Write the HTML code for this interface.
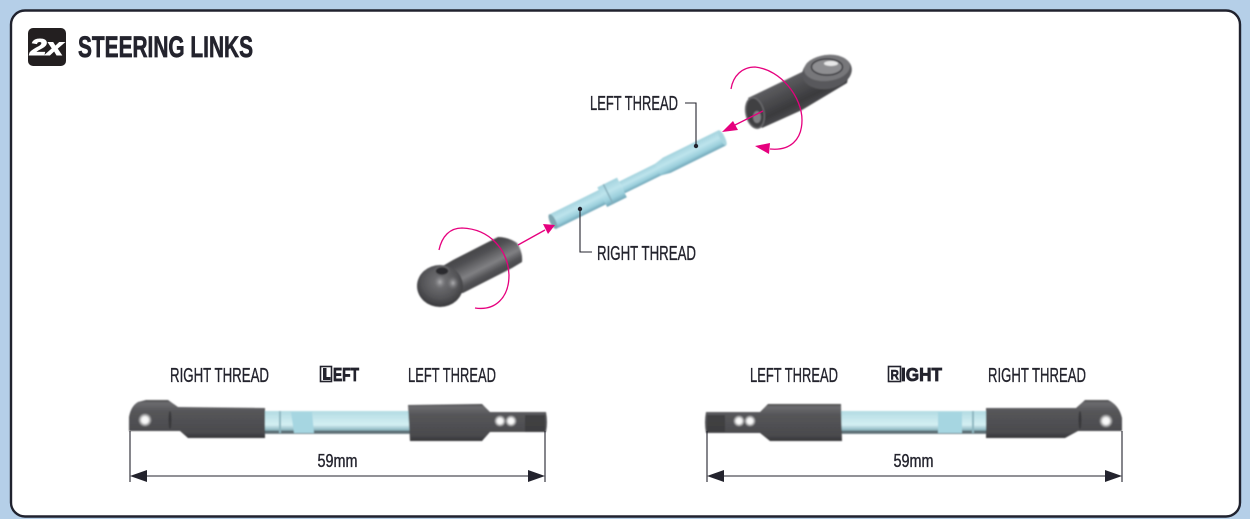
<!DOCTYPE html>
<html><head><meta charset="utf-8"><style>
html,body{margin:0;padding:0;width:1250px;height:519px;overflow:hidden;background:#b5cfe8}
svg{display:block}
text{font-family:"Liberation Sans",sans-serif;fill:#23232d;stroke:#23232d;stroke-width:.35}
</style></head><body>
<svg width="1250" height="519" viewBox="0 0 1250 519" xmlns="http://www.w3.org/2000/svg">
<defs>
<filter id="soft" x="-5%" y="-10%" width="110%" height="120%"><feGaussianBlur stdDeviation=".7"/></filter>
<linearGradient id="dk2" x1="0" y1="0" x2="0" y2="1"><stop offset="0" stop-color="#4a4a4d"/><stop offset=".08" stop-color="#6b6b6e"/><stop offset=".3" stop-color="#555558"/><stop offset=".85" stop-color="#4a4a4d"/><stop offset="1" stop-color="#343437"/></linearGradient>
<linearGradient id="bl" x1="0" y1="0" x2="0" y2="1"><stop offset="0" stop-color="#a4d3de"/><stop offset=".4" stop-color="#bde4ec"/><stop offset=".75" stop-color="#9bcfdc"/><stop offset="1" stop-color="#6fa5b7"/></linearGradient>
<linearGradient id="bl2" x1="0" y1="0" x2="0" y2="1"><stop offset="0" stop-color="#b2dbe2"/><stop offset=".6" stop-color="#d4eff3"/><stop offset=".82" stop-color="#8fb8c2"/><stop offset=".9" stop-color="#4e5c62"/><stop offset="1" stop-color="#7f9197"/></linearGradient>
<linearGradient id="lr" gradientUnits="userSpaceOnUse" x1="466" y1="243" x2="488" y2="286"><stop offset="0" stop-color="#38383b"/><stop offset=".35" stop-color="#505053"/><stop offset=".62" stop-color="#808083"/><stop offset=".78" stop-color="#525255"/><stop offset="1" stop-color="#3e3e41"/></linearGradient>
<linearGradient id="rr" gradientUnits="userSpaceOnUse" x1="767" y1="85" x2="785" y2="122"><stop offset="0" stop-color="#626265"/><stop offset=".3" stop-color="#515154"/><stop offset=".7" stop-color="#3a3a3d"/><stop offset="1" stop-color="#505053"/></linearGradient>
<radialGradient id="ball" cx=".5" cy=".4" r=".65"><stop offset="0" stop-color="#77777a"/><stop offset=".6" stop-color="#545457"/><stop offset="1" stop-color="#313134"/></radialGradient>
<radialGradient id="glow"><stop offset="0" stop-color="#fff"/><stop offset=".45" stop-color="#f4f4f4"/><stop offset="1" stop-color="#fff" stop-opacity="0"/></radialGradient>
<radialGradient id="grey"><stop offset="0" stop-color="#b0b0b3"/><stop offset="1" stop-color="#77777a" stop-opacity="0"/></radialGradient>
</defs>

<rect x="11" y="10.500" width="1229" height="506" rx="14" fill="#fff" stroke="#20222e" stroke-width="2.400"/>

<rect x="28" y="28" width="38" height="38" rx="5" fill="#231f20"/>
<text x="30" y="55" font-size="23" font-weight="bold" font-style="italic" textLength="33" lengthAdjust="spacingAndGlyphs" style="fill:#fff;stroke:#fff;stroke-width:1">2x</text>
<text x="78" y="57" font-size="30" font-weight="bold" textLength="175" lengthAdjust="spacingAndGlyphs" style="stroke-width:.7">STEERING LINKS</text>

<!-- rod -->
<g filter="url(#soft)">
<g transform="translate(552,222) rotate(-26.300)">
<rect x="0" y="-8" width="58" height="16" fill="url(#bl)"/>
<ellipse cx="1" cy="0" rx="3" ry="8" fill="#7fa6b0"/>
<rect x="78" y="-6.500" width="58" height="13" fill="url(#bl)"/>
<path d="M118 -6.500 L128 -8.500 L190 -8.500 L190 8.500 L128 8.500 L118 6.500 Z" fill="url(#bl)"/>
<ellipse cx="190" cy="0" rx="2.500" ry="8.500" fill="#a9d5df"/>
<rect x="56" y="-11" width="22" height="22" fill="url(#bl)"/>
<rect x="62" y="-11" width="1.500" height="22" fill="#86aebb"/>
</g>

<!-- left rod end -->
<path d="M436 270 L453 260 L498 237 Q508 237 517 243 Q523 252 522 262 L512 268 L463 293 L440 295 Z" fill="url(#lr)"/>
<ellipse cx="440" cy="286" rx="23" ry="21" fill="url(#ball)"/>
<ellipse cx="442" cy="271" rx="7" ry="4.500" fill="#2b2b2d" stroke="#636366" stroke-width="1.500"/>
<ellipse cx="440" cy="282" rx="6" ry="7" fill="url(#grey)"/>
<ellipse cx="453" cy="283" rx="6" ry="7" fill="url(#grey)"/>

<!-- right rod end -->
<path d="M748 98 L802 72 L812 62 L840 60 L848 78 L847 83 L802 110 L762 128 Z" fill="url(#rr)"/>
<ellipse cx="827" cy="72" rx="25" ry="17" transform="rotate(-10 827 72)" fill="#58585b"/>
<ellipse cx="827" cy="68" rx="23" ry="13" transform="rotate(-6 827 68)" fill="#77777a"/>
<ellipse cx="827" cy="67" rx="15.500" ry="8" fill="#8e8e91" stroke="#39393c" stroke-width="1.500"/>
<ellipse cx="831" cy="63.500" rx="7" ry="2.500" fill="#e8e8e8"/>
<ellipse cx="755" cy="113" rx="9" ry="15.500" transform="rotate(-12 755 113)" fill="#404043" stroke="#69696c" stroke-width="1.500"/>
<ellipse cx="757" cy="117" rx="4" ry="6" fill="#808083"/>
</g>

<!-- pink arcs and arrows -->
<g fill="none" stroke="#e6007e" stroke-width="1.300">
<path d="M439 250 C442 236 450 228 462 228 C490 229 508 250 509 275 C509 298 495 311 475 308"/>
<path d="M731 89 C733 76 742 67 755 67 C782 70 802 98 802 120 C802 140 790 151 770 149"/>
<path d="M518 245 L545 230"/>
<path d="M763 111 L733 126"/>
</g>
<g fill="#e6007e">
<path d="M555 225 L543 224 L548 234 Z"/>
<path d="M722 132 L733 121 L738 130 Z"/>
<path d="M755 146 L770 143 L769 154 Z"/>
</g>

<!-- leaders -->
<g fill="none" stroke="#23232d" stroke-width="1.100">
<path d="M685 103 H696 V146"/>
<path d="M580 209 V252 H592"/>
</g>
<circle cx="696" cy="146" r="2.200" fill="#23232d"/>
<circle cx="580" cy="209" r="2.200" fill="#23232d"/>
<text x="590" y="110" font-size="20" textLength="88" lengthAdjust="spacingAndGlyphs">LEFT THREAD</text>
<text x="597" y="260" font-size="20" textLength="99" lengthAdjust="spacingAndGlyphs">RIGHT THREAD</text>

<!-- bottom left link -->
<text x="170" y="382" font-size="20" textLength="99" lengthAdjust="spacingAndGlyphs">RIGHT THREAD</text>
<rect x="320.500" y="366.500" width="11" height="15" fill="#fff" stroke="#23232d" stroke-width="1.600"/>
<path d="M323 368 h3.500 v9 h4 v3 h-7.500 Z" fill="#23232d"/>
<text x="333" y="381" font-size="18" font-weight="bold" textLength="26" lengthAdjust="spacingAndGlyphs" style="stroke-width:.8">EFT</text>
<text x="408" y="382" font-size="20" textLength="88" lengthAdjust="spacingAndGlyphs">LEFT THREAD</text>
<g filter="url(#soft)">
<rect x="264" y="411" width="148" height="23" fill="url(#bl2)"/>
<path d="M291 412 L312 412 L314 433 L294 433 Z" fill="#a6d6e1"/>
<rect x="279" y="411" width="2" height="22" fill="#8db6c0"/>
<path d="M129 431 L129 417 Q131 406 138 402 L146 400 L168 400 L178 407 L265 408 L265 438 L188 438 L180 431 Z" fill="url(#dk2)"/>
<path d="M408 405 L482 404 L490 412 L546 412 Q548 422 546 432 L490 432 L482 441 L410 441 Z" fill="url(#dk2)"/>
<ellipse cx="170" cy="420" rx="1.500" ry="9" fill="#38383b"/>
<path d="M525 415 h20 v17 h-20 Z" fill="#333336" opacity=".6"/>
<circle cx="145" cy="420" r="7" fill="url(#glow)"/>
<circle cx="500" cy="421" r="6" fill="url(#glow)"/>
<circle cx="511" cy="421" r="6" fill="url(#glow)"/>
</g>
<path d="M130 431 V482 M545 431 V482 M140 476 H535" stroke="#23232d" stroke-width="1.100" fill="none"/>
<path d="M130 476 L147 470 V482 Z M545 476 L528 470 V482 Z" fill="#23232d"/>
<text x="337.500" y="467" font-size="18" text-anchor="middle" textLength="40" lengthAdjust="spacingAndGlyphs">59mm</text>

<!-- bottom right link -->
<text x="750" y="382" font-size="20" textLength="88" lengthAdjust="spacingAndGlyphs">LEFT THREAD</text>
<rect x="888.500" y="366.500" width="12" height="15" fill="#fff" stroke="#23232d" stroke-width="1.600"/>
<text x="890.500" y="379.500" font-size="14" font-weight="bold" textLength="8.500" lengthAdjust="spacingAndGlyphs" style="stroke-width:.5">R</text>
<text x="901" y="381" font-size="18" font-weight="bold" textLength="41" lengthAdjust="spacingAndGlyphs" style="stroke-width:.8">IGHT</text>
<text x="988" y="382" font-size="20" textLength="98" lengthAdjust="spacingAndGlyphs">RIGHT THREAD</text>
<g filter="url(#soft)">
<rect x="840" y="411" width="148" height="23" fill="url(#bl2)"/>
<path d="M938 412 L962 412 L962 433 L938 433 Z" fill="#a6d6e1"/>
<rect x="972" y="411" width="2" height="22" fill="#8db6c0"/>
<path d="M706 412 L760 412 L768 404 L841 404 L842 441 L770 441 L760 433 L706 433 Q704 422 706 412 Z" fill="url(#dk2)"/>
<path d="M986 408 L1076 408 L1085 400 L1108 400 Q1119 405 1122 418 L1122 431 L1078 431 L1065 438 L986 438 Z" fill="url(#dk2)"/>
<path d="M707 415 h18 v17 h-18 Z" fill="#333336" opacity=".6"/>
<ellipse cx="1080" cy="420" rx="1.500" ry="9" fill="#38383b"/>
<circle cx="739" cy="421" r="6" fill="url(#glow)"/>
<circle cx="750" cy="421" r="6" fill="url(#glow)"/>
<circle cx="1106" cy="421" r="7" fill="url(#glow)"/>
</g>
<path d="M707 431 V482 M1122 431 V482 M717 476 H1112" stroke="#23232d" stroke-width="1.100" fill="none"/>
<path d="M707 476 L724 470 V482 Z M1122 476 L1105 470 V482 Z" fill="#23232d"/>
<text x="913.500" y="467" font-size="18" text-anchor="middle" textLength="40" lengthAdjust="spacingAndGlyphs">59mm</text>
</svg>
</body></html>
